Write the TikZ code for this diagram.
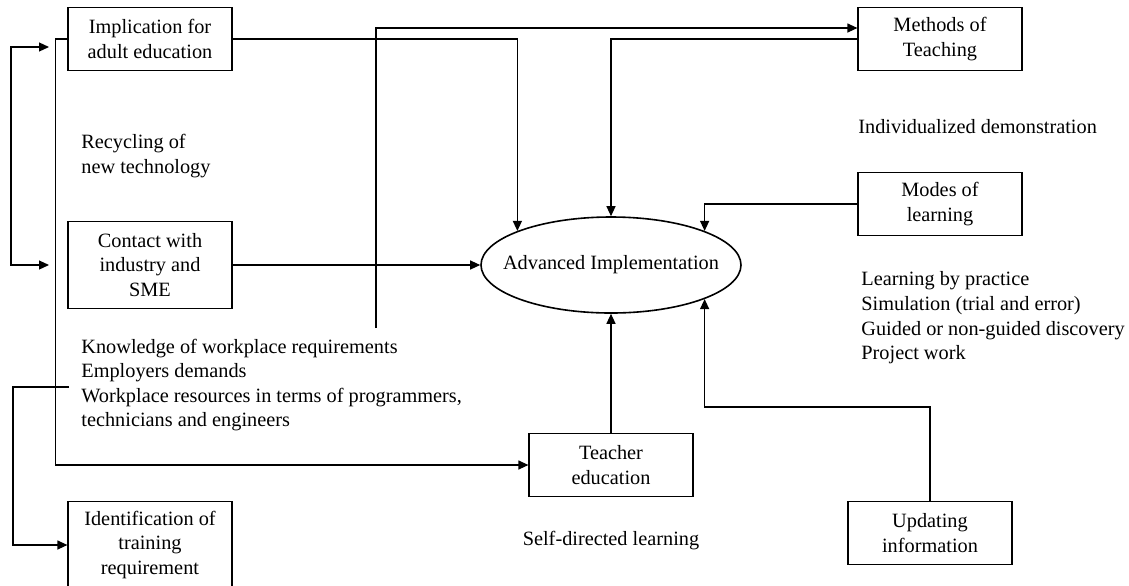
\documentclass[tikz,border=0pt]{standalone}
\usepackage{fontspec}
\setmainfont{Liberation Serif}
\usetikzlibrary{shapes.geometric, arrows.meta, positioning}

\begin{document}
\begin{tikzpicture}[
  x=0.5pt, y=-0.5pt,
  font=\fontsize{10.15}{12.3}\selectfont,
  box/.style={draw, line width=0.6pt, minimum width=82pt, minimum height=31.5pt, align=center, inner sep=1pt},
  tallbox/.style={box, minimum height=43.5pt},
  note/.style={align=left, inner sep=0pt},
  arrow/.style={-{Triangle[length=5pt, width=4.5pt]}, line width=0.6pt},
  twoway/.style={{Triangle[length=5pt, width=4.5pt]}-{Triangle[length=5pt, width=4.5pt]}, line width=0.6pt}
]
  \useasboundingbox (0,0) rectangle (1129,585);

  % Central ellipse
  \node[ellipse, draw, line width=0.8pt, minimum width=130pt, minimum height=48pt, inner sep=0pt,
    label=center:Advanced Implementation] (adv) at (611,265) {};

  % Left column
  \node[box] (impl) at (150,39) {Implication for\\adult education};
  \node[tallbox] (cont) at (150,265) {Contact with\\industry and\\SME};
  \node[tallbox] (ident) at (150,545) {Identification of\\training\\requirement};

  % Bottom boxes
  \node[box] (teach) at (611,465) {Teacher\\education};
  \node[box] (upd) at (930,533) {Updating\\information};

  % Right column
  \node[box] (meth) at (940,39) {Methods of\\Teaching};
  \node[box] (mode) at (940,204) {Modes of\\learning};

  % Free texts
  \node[note, anchor=west] (recy) at (81,156) {Recycling of\\new technology};
  \node[note, anchor=west] (know) at (81,385) {Knowledge of workplace requirements\\Employers demands\\Workplace resources in terms of programmers,\\technicians and engineers};
  \node[note, anchor=west] (indiv) at (858,127) {Individualized demonstration};
  \node[note, anchor=west] (lrn) at (861,318) {Learning by practice\\Simulation (trial and error)\\Guided or non-guided discovery\\Project work};
  \node[note] (self) at (611,541) {Self-directed learning};

  % Free ends
  \coordinate (knowtop) at (376,328);
  \coordinate (wrk) at (69,387);
  \coordinate (loopA) at (49,47);
  \coordinate (loopB) at (49,265);

  % Connectors
  \draw[arrow] (impl.east) -| (adv.160);
  \draw[arrow] (impl.west) -- ++(-12,0) |- (teach.west);
  \draw[arrow] (cont.east) -- (adv.west);
  \draw[arrow] (meth.west) -| (adv.north);
  \draw[arrow] (knowtop) |- ([yshift=5.5pt]meth.west);
  \draw[arrow] (mode.west) -| (adv.20.6);
  \draw[arrow] (upd.north) -- ++(0,-94) -| (adv.-20.6);
  \draw[arrow] (teach.north) -- (adv.south);
  \draw[twoway] (loopA) -- ++(-38,0) |- (loopB);
  \draw[arrow] (wrk) -- ++(-56,0) |- (ident.west);

\end{tikzpicture}
\end{document}
